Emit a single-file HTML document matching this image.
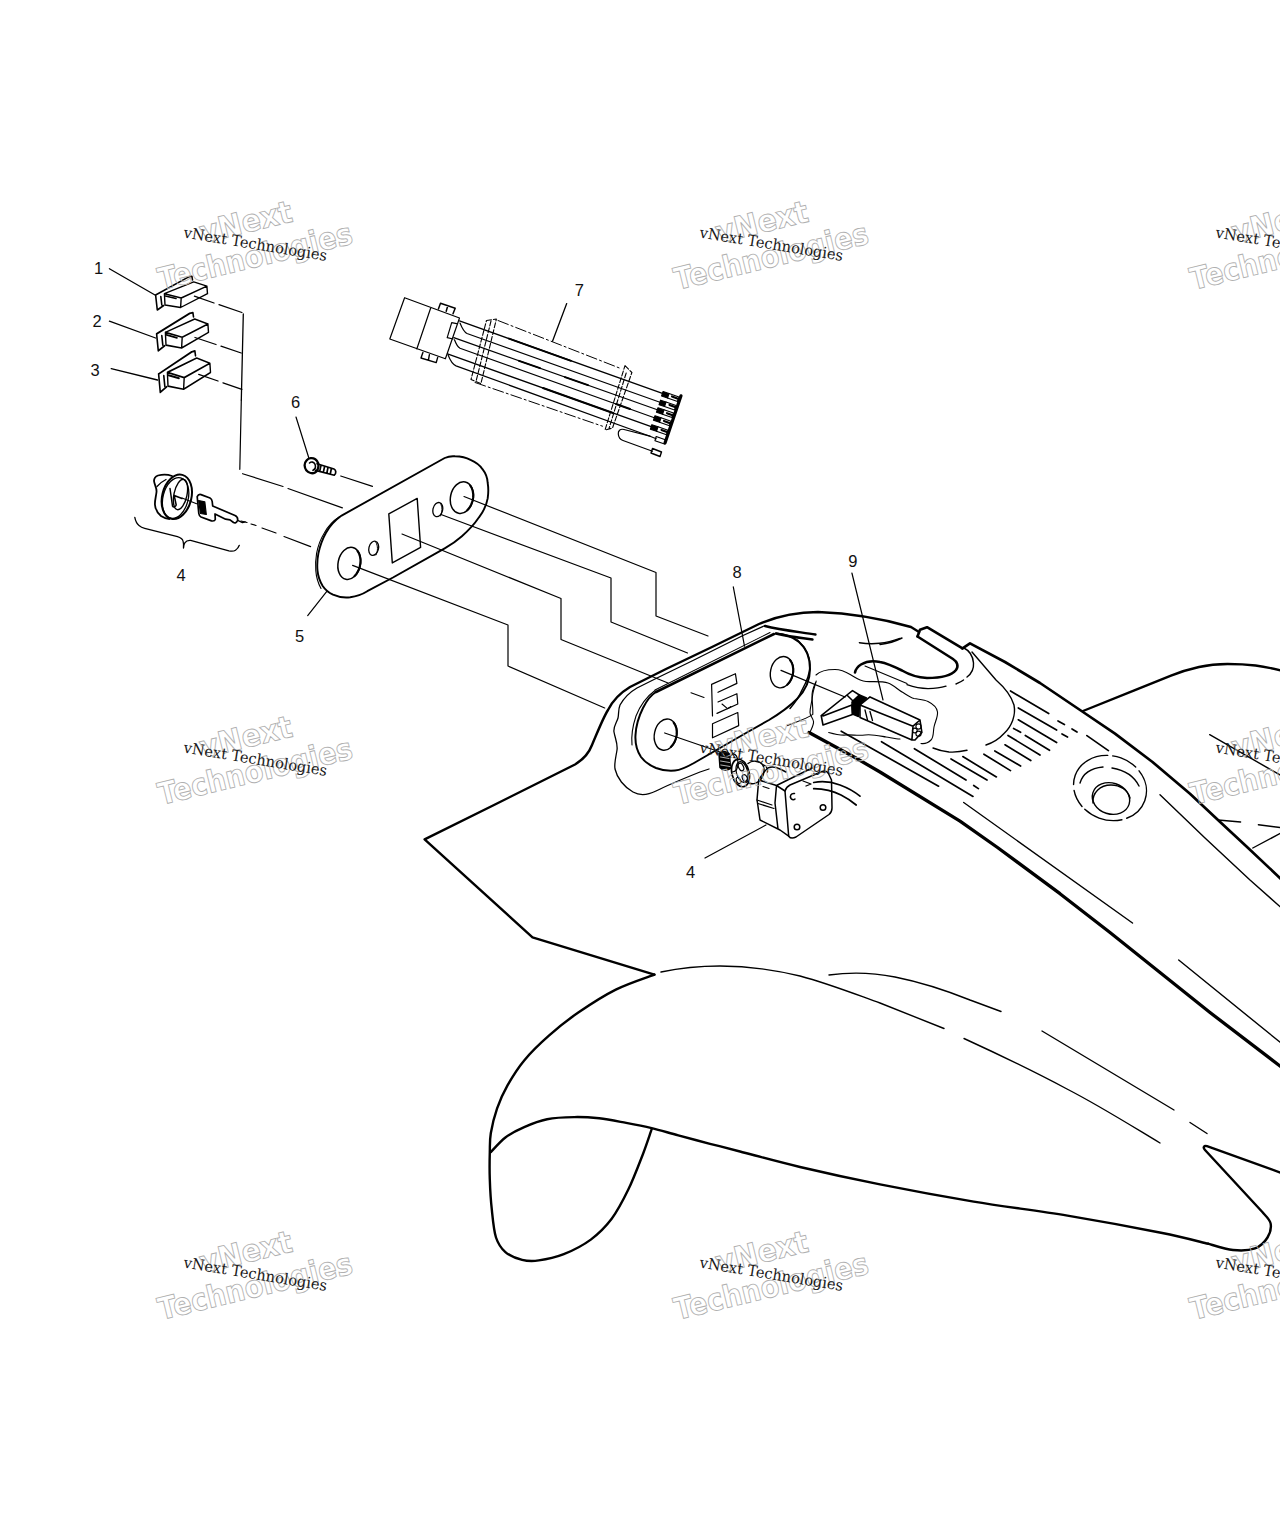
<!DOCTYPE html>
<html lang="en"><head><meta charset="utf-8"><title>Parts diagram</title>
<style>
html,body{margin:0;padding:0;background:#fff;}
body{width:1280px;height:1536px;overflow:hidden;}
svg{display:block;}
.k{fill:none;stroke:#000;stroke-linecap:round;stroke-linejoin:round;}
.t1{stroke-width:1.1}.t2{stroke-width:1.4}.t3{stroke-width:2.4}.t4{stroke-width:3}
.num{font-family:"Liberation Sans",Arial,sans-serif;font-size:16.5px;fill:#111;}
.wo{font-family:"DejaVu Sans","Liberation Sans",sans-serif;font-size:30.5px;font-weight:bold;fill:#fff;fill-opacity:.0;stroke:#b0b0b0;stroke-width:.9;text-anchor:middle;}
.ws{font-family:"DejaVu Serif","Liberation Serif",serif;font-size:15.2px;fill:#1a1a1a;}
</style></head><body>
<svg width="1280" height="1536" viewBox="0 0 1280 1536">
<rect width="1280" height="1536" fill="#fff"/>
<!-- 10_body.svg -->
<g id="body" class="k t3">
<!-- left flat panel + top outline -->
<path d="M654.4,974.6 L532.5,937.3 L424.6,839.3 L494,805 L575,764.5 C584,759 589,753 592,745 C598,731 603,718 608,710 C613,700 620,693 630,687 L666,669 L712,647 L759,624 C780,615 800,612 818,612 C845,613 880,618 911,627 L919,632"/>
<!-- front wheel arch outer -->
<path d="M654.4,974.6 C648.0,977.1 628.5,983.3 615.8,989.6 C603.2,995.9 589.4,1004.9 578.3,1012.5 C567.2,1020.1 558.2,1027.4 549.2,1035.4 C540.1,1043.4 531.1,1052.1 524.2,1060.4 C517.2,1068.8 512.0,1077.4 507.5,1085.4 C503.0,1093.4 499.9,1100.3 497.1,1108.3 C494.3,1116.3 492.0,1126.0 490.8,1133.3 C489.6,1140.6 490.0,1144.4 489.8,1152.1 C489.6,1159.7 489.4,1169.4 489.8,1179.2 C490.1,1188.9 490.8,1200.7 491.9,1210.4 C492.9,1220.1 493.8,1230.6 496.0,1237.5 C498.3,1244.4 501.1,1248.4 505.4,1252.1 C509.8,1255.8 516.5,1258.4 522.1,1259.8 C527.6,1261.2 531.8,1261.4 538.8,1260.4 C545.7,1259.5 555.1,1257.6 563.8,1254.2 C572.4,1250.7 582.8,1245.5 590.8,1239.6 C598.8,1233.7 605.4,1227.1 611.7,1218.8 C617.9,1210.4 623.1,1200.3 628.3,1189.6 C633.5,1178.8 639.0,1164.2 642.9,1154.2 C646.8,1144.1 650.2,1133.3 651.7,1129.2"/>
<!-- inner arch edge + bottom edge of fender -->
<path d="M490.8,1152.1 C493.3,1149.7 499.9,1141.7 505.4,1137.5 C511.0,1133.3 517.2,1130.1 524.2,1127.1 C531.1,1124.0 538.8,1120.8 547.1,1119.2 C555.4,1117.5 565.5,1117.2 574.2,1117.1 C582.8,1116.9 590.5,1117.4 599.2,1118.3 C607.8,1119.3 617.5,1121.3 626.2,1122.9 C635.0,1124.5 643.0,1126.0 651.7,1128.1 C660.3,1130.2 668.6,1132.8 678.3,1135.4 C688.1,1138.0 699.7,1141.1 710.0,1143.8 C720.3,1146.4 725.0,1147.6 740.0,1151.5 C755.0,1155.4 776.7,1161.5 800.0,1167.0 C823.3,1172.5 851.0,1178.6 880.0,1184.4 C909.0,1190.2 942.5,1196.4 973.7,1201.6 C1005.0,1206.8 1036.3,1210.4 1067.5,1215.6 C1098.7,1220.8 1137.6,1228.1 1161.0,1232.8 C1184.4,1237.5 1200.2,1241.9 1208.0,1243.7"/>
<path d="M1208.0,1243.7 C1212.2,1244.8 1225.2,1249.2 1233.0,1250.0 C1240.8,1250.8 1249.2,1250.5 1255.0,1248.4 C1260.8,1246.3 1264.9,1241.7 1267.5,1237.5 C1270.1,1233.3 1271.4,1227.6 1270.6,1223.4 C1269.8,1219.2 1264.1,1214.3 1262.8,1212.5 L1205,1150 C1202.5,1147.3 1204,1145.3 1207,1146.2 L1281,1172.8"/>
</g>
<g class="k t2">
<!-- top of arch line -->
<path d="M661,972 C680,968 700,966 720,966 C745,966 775,970 800,976 C830,984 860,996 880,1003 L944,1028.5"/>
<path d="M964,1038.5 C1000,1055 1035,1072 1067,1089 C1100,1106 1130,1125 1160,1143"/>
<path d="M829,975 C850,972 875,973 895,977 C920,982 945,990 970,1000 L1001,1011.5"/>
<path d="M1042,1031 L1174,1110 M1190,1122.5 L1207,1133.5"/>
</g>

<!-- 11_body2.svg -->
<g class="k t3">
<!-- tab / loop -->
<path d="M917.5,636.5 L920,629.7 L927,627.2 L962.5,648.4" stroke-width="2.6"/>
<path d="M917.5,636.5 L953,659 C957,661.5 959,666 956,670 C952,675 942,678 927,678 C918,677.5 908,674 902,670.5 C895,667 888,663.5 880,662 C873,660.5 866,661.5 861,664.5 C857,667 855.5,670 855,672.5" stroke-width="2.6"/>
<!-- raised section far edge -->
<path d="M962.5,648.4 L970,643.4 L1005,662 L1040,683 L1083,712 L1115,733.7 L1152.5,762 L1190,793.7 L1218,820 L1246,846 L1281,879" stroke-width="2.7"/>
<!-- big right fender -->
<path d="M1083,711 L1133.7,690.6 L1171,675.6 C1181,671.5 1190,669 1199,667 C1208,665 1218,664 1227.5,664 C1237,664 1247,664.5 1255.6,665.5 C1264,666.5 1273,668.5 1281,670.5"/>
<!-- near thick edge of top section -->
<path d="M809,732.5 L855,757.5 L880,772 L960,821.2 L997.5,847.5 L1060,893.7 L1110,932.5 L1160,972.5 L1210,1012.5 L1281,1066.8" stroke-width="3.3"/>
</g>
<g class="k t2">
<!-- dome front line -->
<path d="M972,652 L996,680 C1004,687 1011,695 1014,705 C1016,715 1012,726 1004,733.5 C999,739 992,743 986,745"/>
<path d="M967,750.3 C960,752 954,752.3 949,752 C943,751.5 938,750 933,748"/>
<!-- fender surface lines -->
<path d="M1209.7,734.7 L1281,775.5"/>
<path d="M1218,820 L1240.6,822 M1258.4,824.7 L1281,827.7 M1252.8,848 L1281,833"/>
<path d="M1160,794.7 L1205,838 L1250,880 L1281,907.5"/>
<path d="M963.7,802.5 L1132.5,923"/>
<path d="M1178.7,960 L1281,1043"/>
<!-- second line parallel above thick edge -->
<!-- cap hole -->
<ellipse cx="1111" cy="798.5" rx="19" ry="15.5" transform="rotate(18 1111 798.5)"/>
<path d="M1093,803 C1092,793 1100,785 1111,785 C1120,785 1128,790 1130,798" />
<ellipse cx="1110" cy="788" rx="37" ry="32" transform="rotate(20 1110 788)" stroke-dasharray="26 5 40 4 18 6 50 5"/>
<path d="M1080,783 C1083,773 1092,768 1103,767 M1112,768 C1124,770 1134,776 1139,786"/>
</g>

<!-- 12_hatch.svg -->
<g class="k" stroke-width="1.7">
<path d="M1010.5,691 L1048.7,713.6 M1018.3,708 L1056.6,730 M1058,721 L1064.4,724.5 M1072,729 L1077,732 M1062,734 L1067.5,737 M1086.9,735.6 L1108.4,750.6
M1018.3,719.8 L1056.6,742.5 M1013.6,728.4 L1020.6,732.3 M1025.3,735.5 L1049.5,750.3 M1008,735.5 L1040,755
M1005,744.8 L1030.8,760.5 M994.8,751 L1020.6,766 M983.9,754.2 L1010.5,770.6 M962.8,756.6 L996.4,776.9
M951,759 L987,780 M914.4,748.7 L966,780 M973.7,785.5 L978.4,788.6 M881.5,741.7 L973,796.4 M841.2,731.2 L938.6,786.2"/>
</g>
<g class="k t2">
<!-- arcs near tab -->
<path d="M964,648 C970,651 973,657 973.5,663 C974,669 971,674 967,677 M963.5,680 C961,682 958,683 956,684"/>
<path d="M907,684.7 C915,687.5 922,688.6 928,688.6 C935,688.6 941,687.8 946,686.2"/>
<path d="M880,644.5 C888,643.5 896,641 902,638"/>
</g>

<!-- 20_plate8.svg -->
<g class="k t2">
<!-- inner wavy line of recess -->
<path d="M765,625.5 L743,635.5 L694,660 L656,678.5 L637,688 C630,692 624,698 620,705 C618,710 619,714 618,718 C617,722 613,727 614,732 C615,738 618,744 617,750 C616,757 614,763 615,769 C617,778 624,787 633,792 C640,796 648,795 656,791 C670,784 685,778 700,772 L709,769" stroke-width="1.3"/>
<!-- plate 8 outline -->
<path d="M656,692 L774,634" stroke-width="2.6"/>
<path d="M655,690 L770,632.5" stroke-width="1.1"/>
<path d="M765,626 C780,630 800,632 815.5,634.5 M776,633.5 C790,637 803,638 812.5,639.5" stroke-width="2.4"/>
<path d="M776,633.5 C786,634 793,637 799,642 C806,648 810,658 810,669 C810,680 805,691 797,699 C789,707 779,714 769,720 L746,733 L694,763 C687,767 681,770 675,770.5 C668,771 661,770 656,768 C649,765 644,761 641,757 C637,751 635,743 635.5,735 C636,725 639,716 643,708 C647,700 651,695 656,692" stroke-width="2"/>
<path d="M632,745 C631,735 633,725 636,716 C640,706 646,697 655,690.5" stroke-width="1.1"/>
<!-- holes -->
<ellipse cx="665.6" cy="734.6" rx="11.2" ry="15.8" transform="rotate(12 665.6 734.6)"/>
<ellipse cx="781.9" cy="672.2" rx="11.4" ry="15.8" transform="rotate(12 781.9 672.2)"/>
<path d="M673.7,722.6 L675.2,725.1 L676.3,728.1 L676.7,731.4 L676.6,734.9 L675.9,738.3 L674.7,741.6 L673.0,744.5 L670.9,746.9 M790.1,660.2 L791.7,662.7 L792.7,665.7 L793.2,669.0 L793.1,672.5 L792.4,676.0 L791.1,679.3 L789.4,682.2 L787.3,684.6" stroke-width="2.1"/>
<!-- rectangles -->
<path d="M712.5,716 L711.6,684.4 L735.4,673.7 L736.9,683.4 L718,692.3 M718,702 L736.9,693.7 L737.8,704 L717,713.4 M712.5,723.7 L737.8,712.5 L738.7,725.6 L712.5,737.8 Z" stroke-width="1.2"/>
<path d="M691,692.8 L704,697.5 M722,704 L727.5,708.7 L731,706.5" stroke-width="1.1"/>
<path d="M733.3,586.9 L744.5,646.2" stroke-width="1.2"/>
<!-- axis lines -->
<path d="M664.7,733 L720,752 M781,670.3 L845,697" stroke-width="1.3"/>
<!-- wire -->
<path d="M815.6,682.5 C813,688 811.5,692 812,698 C812.5,704 813,709 812.8,714.4 C806,719 796,722 787.5,725.6" stroke-width="1.1"/>
</g>
<!-- step lines from plate 5 to plate 8 -->
<g class="k" stroke-width="1.2">
<path d="M352.6,565.4 L508,625 L508,666 L604.7,708"/>
<path d="M402,534 L561,598.5 L561,639.5 L668,683"/>
<path d="M441,514.5 L611,578 L611,622 L687.5,653"/>
<path d="M464,496.5 L656,572.5 L656,616 L708,636"/>
</g>

<!-- 30_switch9.svg -->
<g class="k" stroke-width="1.6">
<!-- lever -->
<path d="M821.2,715.6 L823,725 L852.5,714.4 L851.9,705 L823,716 M821.2,715.6 L846.9,695 L852.5,690.6 L859.4,695 L853,701 L846.9,695"/>
<path d="M852,702 L859.5,695 L866.5,698 L859.5,705 L858.5,716.5 L852.5,714 Z" fill="#000"/>
<!-- body -->
<path d="M860,705 L870,696.9 L920,720 L913,726.2 Z M860,705 L860,717.5 L911.9,740 L913,726.2 M920,720 L921.9,732.5 L915,740 L911.9,740"/>
<path d="M865,710 L867.5,720 M870,711.5 L872.5,720.5" stroke-width="1.3"/>
<circle cx="918.5" cy="726.5" r="2.6" stroke-width="1.1"/><circle cx="918.5" cy="733.7" r="2.6" stroke-width="1.1"/><circle cx="914.8" cy="730.5" r="2.4" stroke-width="1.1"/>
</g>
<g class="k" stroke-width="1.1">
<!-- leader 9 & axis -->
<path d="M851.9,573 L883,700" stroke-width="1.2"/>
<!-- cloud -->
<path d="M816,675 C820,671 828,669.5 835,669.5 C842,669.5 846,672 851,675 C856,678 860,681 866,681.5 C874,682 882,681 888,683 C894,685 898,690 903,692.5 C907,695 910,697.5 914,698.5 C919,699.5 924,699.5 928,701.5 C933,704 937,708 937.5,712 C938,717 935,722 934,727 C933,732 934,737 931,740 C928,743 924,744 921,743.5"/>
<path d="M816.2,681 C815,686 813,691 812.5,696 C812,702 810,707 810,712.5 C810,716 813,718 813.5,721.5 C814,725 811,729 810,732.5"/>
<path d="M828.7,732.5 C834,734 840,735.5 846,735 C852,734.5 858,736 865,735 C872,734 880,736 886,737 C892,738 896,739 900,739"/>
<!-- recess arc left of switch -->
<path d="M797.5,640 C806,648 810,656 810,665 C810,675 806,683 802,690 C799,697 794,704 790,708.5" stroke-width="1.5"/>
<path d="M859.4,642.7 C866,643.7 873,644 879.7,643.2 C887,642.5 894,640.5 900,638.4" stroke-width="1.5"/>
<path d="M865,666 L907,683.5" />
</g>

<!-- 31_switch4.svg -->
<g class="k" stroke-width="1.5">
<!-- threaded barrel -->
<path d="M719,753.5 C722,750.5 727,751 729.5,754 L730.5,768.5 C727.5,771 722.5,770.5 720,767.5 Z" fill="#000"/>
<path d="M720.5,757 L729,758.5 M720.5,761 L729.5,762.5 M720.8,765 L730,766.5" stroke="#fff" stroke-width=".7"/>
<path d="M732,754 C736,753.5 738,757 738,763 C738,768 736,772 732,772" stroke-width="1.2"/>
<!-- washer / nut -->
<ellipse cx="740.5" cy="773" rx="8.6" ry="14" transform="rotate(-14 740.5 773)" stroke-width="1.7"/>
<ellipse cx="742" cy="772" rx="5.6" ry="10.5" transform="rotate(-14 742 772)" stroke-width="1.2"/>
<ellipse cx="741" cy="767" rx="2.4" ry="4" transform="rotate(-25 741 767)" stroke-width="1.2"/>
<ellipse cx="745" cy="778.5" rx="2.4" ry="4" transform="rotate(-25 745 778.5)" stroke-width="1.2"/>
<ellipse cx="738.5" cy="780.5" rx="2" ry="3.2" transform="rotate(-25 738.5 780.5)" stroke-width="1.1"/>
<!-- neck -->
<path d="M748,763.5 C752,760 759,760.5 762.5,764.5 C765,768 764.5,774 761.5,778.5 C758.5,783 753,785 749,783" stroke-width="1.4"/>
<path d="M762.5,764.5 C766,765.5 768,768 767.5,772" stroke-width="1.3"/>
<!-- body -->
<path d="M785,791 C786,788 788,786 790,785 L822,771.5 C825,770.5 827,771 828.5,773.5 L831.5,780 L832,808 C832,811 831,813 829,814.5 L796,837 C793,838.5 790,838 788.7,836.2 Z"/>
<path d="M758.7,780 C762,775 765,770 768,768 C772,766 776,767 780,769 L786,772 M776.5,785.5 L812,768 M758.7,780 L776.5,785.5 L785,791 M758.7,780 L757,800 L757.5,803 L760,820 L780,830 L788.7,836.2 M776.5,785.5 L775,803 L778,829"/>
<path d="M757,800 L772,805 M758,803.5 L774,808.5 M763,786.5 L769,788.5" stroke-width="1.2"/>
<circle cx="823" cy="807.5" r="2.8"/><circle cx="797" cy="827" r="2.8"/>
<path d="M794.5,793.5 C791,793 789.5,796 791,798.5 C792,800 794,800 795,799"/>
<!-- cable -->
<path d="M813.7,782.5 C822,781 832,782 840,785 C848,788 855,792 860,796.2 M813.7,788.7 C823,789 833,791 841,795 C847,798 852,801.5 856.2,805" stroke-width="1.7"/>
<path d="M803,781 L811,784 L806,786" stroke-width="1.3"/>
<!-- leader -->
<path d="M766,825 L705,858" stroke-width="1.2"/>
</g>

<!-- 40_plate5.svg -->
<g class="k" stroke-width="1.9">
<path d="M341.6,515.6 L444.7,458 C448,456.5 452,456 455,456.3 C461,456.5 466,457.5 470.5,459.8 C475.5,462 480,465 482.5,469.2 C485.5,473 487.5,478 487.7,483 C488.5,488 488.5,493 487.7,498.4 C486.5,505 483.5,511.5 479,517.3 C474.5,524 468.5,530.5 461.9,536.2 C456.5,541 450.5,545 444.7,548.3 L393,577.5 L367.3,591.2 C362,594.5 356,596.5 350.2,597.3 C344,598 338,597 333,594.7 C328.5,592.5 325,589.5 322.7,586 C320,581.5 318,576 317.5,570.6 C317,565 317.3,559 318.4,553.4 C320,546 322.5,539 326,532.8 C330,525.5 335.5,520 341.6,515.6 Z"/>
<path d="M321,588.5 C318,583 316.3,577 315.8,570.6 C315.4,565 315.6,559 316.6,553.4 C318,546 320.5,539 324.3,533 C328,526 333.5,520.5 339.8,516.5" stroke-width="1.1"/>
</g>
<g class="k" stroke-width="1.5">
<ellipse cx="349.3" cy="563.4" rx="11.2" ry="16.3" transform="rotate(12 349.3 563.4)"/>
<ellipse cx="461.9" cy="497.6" rx="11.4" ry="16" transform="rotate(12 461.9 497.6)"/>
<ellipse cx="373.7" cy="548.3" rx="4.8" ry="7.2" transform="rotate(14 373.7 548.3)" stroke-width="1.3"/>
<ellipse cx="437.8" cy="509.6" rx="4.8" ry="7.2" transform="rotate(14 437.8 509.6)" stroke-width="1.3"/>
<path d="M357.5,551.0 L359.0,553.5 L360.0,556.6 L360.5,560.0 L360.3,563.6 L359.6,567.2 L358.3,570.6 L356.6,573.6 L354.5,576.1 M470.2,485.5 L471.7,488.0 L472.7,491.0 L473.2,494.4 L473.1,497.9 L472.4,501.4 L471.1,504.7 L469.4,507.7 L467.3,510.1" stroke-width="2.1"/>
<path d="M376,542.5 C378,546 378,551 376,555 M440.5,503.5 C442.5,507 442.5,512 440.5,516" stroke-width="1"/>
<path d="M388.8,513.9 L417.2,498.4 L420.6,547.4 L392.3,562.9 Z" stroke-width="1.4"/>
</g>
<g class="k" stroke-width="1.2">
<!-- screw 6 -->
<path d="M296,417 L309,458.5"/>
<path d="M306.5,460.5 C308.5,457.8 312.5,457.3 315.3,459.3 C318,461.3 319,465 318,468.7 C317,472 313.8,474 310.5,473 C307,472 304.8,468.8 304.6,465.3 C304.5,463.3 305.3,461.8 306.5,460.5 Z" stroke-width="2.3"/>
<path d="M309.5,463 C311.5,461.3 314,462 315,464.3 C316,466.8 315,469.3 313,470.3" stroke-width="1.6"/>
<path d="M317,463.8 L334,469 C336.3,470 336.3,473.6 334.3,475.2 L315.5,470.4 M321,465.2 L319.8,471 M324.6,466.4 L323.4,472.2 M328,467.5 L326.8,473.2 M331.4,468.5 L330.2,474.2" stroke-width="1.7"/>
<path d="M340.7,476 L372.5,486.4"/>
<!-- leader 5 -->
<path d="M327,591.2 L307.7,615.6"/>
<!-- connector trunk line -->
<path d="M241.3,400 L239.8,469.3"/>
<path d="M242.6,473.7 L283,486.5 M288,488.5 L342.4,507.9"/>
<!-- key dash line -->
<path d="M241,521 L247,522.5 M251,524 L256,525.5 M262,528 L276,533 M284,536.5 L310.6,546.6"/>
</g>

<!-- 41_conn.svg -->
<g class="k">
<g transform="translate(0,0)">
<path d="M155.6,295 L188.7,276.9 L191.9,276.2 L192.5,280 M155.6,295 L157.3,310 L163.7,305.5 M160.8,296.5 L161.8,305" stroke-width="1.6"/>
<path d="M164.4,293.7 L193.7,281.9 L206.9,286.2 L181.2,298 Z M181.2,298 L180.6,307.5 L165,305 L164.4,293.7 M206.9,286.2 L207.5,293.7 L180.6,307.5" stroke-width="1.4"/>
<path d="M165.5,296 L176,298.5" stroke-width="1.6"/>
</g>
<g transform="translate(1,36.5) translate(0,276.9) scale(1,1.13) translate(0,-276.9)">
<path d="M155.6,295 L188.7,276.9 L191.9,276.2 L192.5,280 M155.6,295 L157.3,310 L163.7,305.5 M160.8,296.5 L161.8,305" stroke-width="1.6"/>
<path d="M164.4,293.7 L193.7,281.9 L206.9,286.2 L181.2,298 Z M181.2,298 L180.6,307.5 L165,305 L164.4,293.7 M206.9,286.2 L207.5,293.7 L180.6,307.5" stroke-width="1.4"/>
<path d="M165.5,296 L176,298.5" stroke-width="1.6"/>
</g>
<g transform="translate(3,75) translate(0,276.9) scale(1,1.22) translate(0,-276.9)">
<path d="M155.6,295 L188.7,276.9 L191.9,276.2 L192.5,280 M155.6,295 L157.3,310 L163.7,305.5 M160.8,296.5 L161.8,305" stroke-width="1.6"/>
<path d="M164.4,293.7 L193.7,281.9 L206.9,286.2 L181.2,298 Z M181.2,298 L180.6,307.5 L165,305 L164.4,293.7 M206.9,286.2 L207.5,293.7 L180.6,307.5" stroke-width="1.4"/>
<path d="M165.5,296 L176,298.5" stroke-width="1.6"/>
</g>
<path d="M109.4,268.7 L155,295 M109.4,321.2 L155.6,338 M111.2,368.7 L157.5,380" stroke-width="1.3"/>
<path d="M194.4,296.2 L214,303 M219,304.7 L241.9,312.5 M195,337.5 L216,344.5 M221,346.2 L241.2,353 M198.7,374.4 L218,381 M223,382.8 L241.9,389.4" stroke-width="1.3"/>
<path d="M243.3,314 L241.3,400" stroke-width="1.3"/>
</g>

<!-- 42_harness.svg -->
<g class="k" stroke-width="1.2">
<!-- connector block -->
<path d="M404.6,297.7 L459.5,318 L445.4,358.8 L389.8,339 Z M430.6,308.2 L416.8,349"/>
<path d="M438.4,308.9 L440.5,303.3 L455.2,308.2 L453,313.8 M447.8,305.8 L446.2,311.2" stroke-width="1.5"/>
<path d="M422.9,352.5 L421,358 L436.2,362.6 L437.7,357.4 M429.4,354.6 L428.4,360.2" stroke-width="1.4"/>
<path d="M456.6,323.7 L451.7,322.7 L447.2,337.7 L453,339"/>
<!-- wires -->
<path d="M459.5,320.9 L663.1,393.7" stroke-width="1.3"/>
<path d="M460,323 C462,328 464,332 467,333.5 L660.6,402.5"/>
<path d="M453.8,337.7 L658,410" stroke-width="1.3"/>
<path d="M454.5,339.8 C456,344 458,347 460,348.3 L655,418"/>
<path d="M447.5,353.9 L651.9,426.9" stroke-width="1.3"/>
<path d="M448.2,355.3 C450,360 453,364.5 456,365.9 L650,436.2 L656.2,438.7"/>
<!-- thicker mid-segments -->
<path d="M509,338.6 L571,360.8 M519,360.8 L540,368.2 M565,377.1 L588,385.2 M543,388 L613,413 M616,404 L630,409" stroke-width="1.9"/>
<!-- loop wire -->
<path d="M650,436.2 L624,429.5 C620,428.5 618,431 618.3,434 C618.5,437.5 620,439.5 623,440.5 L652.5,451.2" />
<path d="M652.5,448.5 L661.5,452 L660,456.5 L651,453 Z" stroke-width="1.4"/>
<!-- sleeve bands -->
<g stroke-dasharray="5 2" stroke-width="1.1">
<path d="M486.5,320.5 L496.4,319 L480.9,383.7 L471,379.5 Z M491,321 L476,381.5"/>
<path d="M625,365.6 L631.9,372.5 L612.5,428 L605,430 Z M626.2,373 L609,428.5"/>
</g>
<path d="M498,320.5 L621.2,368.7 M475,382.5 L602.5,426.2" stroke-dasharray="11 3 2 3" stroke-width="1"/>
<!-- terminals -->
<path d="M681,395.8 L665,443" stroke-width="3.2"/>
<g stroke-width="1.2">
<path d="M663.1,391.5 L669,393.5 L667.5,398 L661.6,396 Z M660.6,400.2 L666,402 L664.5,406.5 L659.1,404.7 Z M658,407.8 L664,409.8 L662.5,414.3 L656.5,412.3 Z M655,415.8 L661,417.8 L659.5,422.3 L653.5,420.3 Z M651.9,424.7 L658,426.7 L656.5,431.2 L650.4,429.2 Z" fill="#000"/>
<path d="M669,393.5 L679,397 L677.5,401.5 L667.5,398 M666,402 L676,405.5 L674.5,410 L664.5,406.5 M664,409.8 L673.5,413 L672,417.5 L662.5,414.3 M661,417.8 L671,421.3 L669.5,425.8 L659.5,422.3 M658,426.7 L668,430.2 L666.5,434.7 L656.5,431.2 M656.2,436.5 L666,440 L664.5,444 L655,440.7 Z"/>
<path d="M672,396.5 L678,398.7 M669.5,405 L675,407 M667,413.2 L672.5,415.2 M664,421 L670,423.2 M661.5,430 L667,432" stroke-width="2.2"/>
</g>
<!-- leader 7 -->
<path d="M566.7,303.6 L552.5,341.2" stroke-width="1.3"/>
</g>

<!-- 43_key.svg -->
<g class="k" stroke-width="1.6">
<!-- lock cap -->
<ellipse cx="176.8" cy="496.8" rx="14.6" ry="22.6" transform="rotate(14 176.8 496.8)" stroke-width="2"/>
<ellipse cx="175.6" cy="498" rx="12.6" ry="20.8" transform="rotate(14 175.6 498)" stroke-width="1.3"/>
<path d="M172,476 C168,474.5 162,474.5 158,475.5 C155.5,476.5 154,478.5 154,481 C154.5,485 157,488 156.5,492 C156,497 154.5,501 155,505 C155.5,510 158,513.5 161,516 C164,518 167,518.8 169.5,519" stroke-width="1.8"/>
<path d="M157,486.5 C160,483 163,481 166,479.5" stroke-width="1.3"/>
<ellipse cx="180.5" cy="494.5" rx="6.5" ry="15.5" transform="rotate(12 180.5 494.5)" stroke-width="1.4"/>
<path d="M170,488.5 L172.5,506 C173.5,507.5 175.5,507 176.2,505 L174.2,495.5 M174.2,495.5 L182,498.5" stroke-width="1.5"/>
<!-- link -->
<path d="M182,498 L196.6,503.7" stroke-width="1.2"/>
<!-- key -->
<path d="M197.2,496.6 C198,494.8 199.5,494.2 201,494.6 L210,498 C211.5,498.8 212,500 212.2,501.5 L212.7,506 L235,515.5 C237,516.5 238,518.5 237.5,520.5 C236.5,522.8 235,523.3 233.5,522.5 L230,519.8 L225.6,519.2 L215,514 L215.3,519.4 C215,520.6 213.5,521.2 211.5,520.9 L201,517 C199.5,516.2 199,515 198.8,513.5 Z" stroke-width="1.7"/>
<path d="M198.6,500.5 L204.8,501.8 L206.3,514.5 L200.5,513.5 Z" fill="#000" stroke-width="1.2"/>
<path d="M237.7,520.4 L242.5,522.6 L245,521.8" stroke-width="1.4"/>
<!-- brace -->
<path d="M134.8,517.4 C135.5,521 136.5,523.5 139,525.5 C141,527.3 143,528 144.7,528.4 L177.5,536.6 C180.5,537.5 182.5,538.8 183,540.9 C183.6,543 183.7,545.5 183.5,548 C183.6,545.5 184,544 184.8,542.8 C186,541 188,540.2 190.6,540.4 L228.9,550.8 C231.5,551.4 233.8,551.3 235.5,550.2 C237.3,549 238.6,547.3 239.3,545.3" stroke-width="1.3"/>
</g>

<g id="labels">
<text class="num" x="98.5" y="273.7" text-anchor="middle">1</text>
<text class="num" x="97" y="327" text-anchor="middle">2</text>
<text class="num" x="95" y="375.6" text-anchor="middle">3</text>
<text class="num" x="295.5" y="407.8" text-anchor="middle">6</text>
<text class="num" x="579.4" y="296" text-anchor="middle">7</text>
<text class="num" x="181" y="580.8" text-anchor="middle">4</text>
<text class="num" x="299.5" y="642.3" text-anchor="middle">5</text>
<text class="num" x="737" y="578.3" text-anchor="middle">8</text>
<text class="num" x="852.8" y="567.3" text-anchor="middle">9</text>
<text class="num" x="690.6" y="877.5" text-anchor="middle">4</text>
</g>
<g id="wm">
<g transform="translate(251,243.5) rotate(-13.6)"><text class="wo" x="0" y="-11.5" textLength="94" lengthAdjust="spacingAndGlyphs">vNext</text><text class="wo" x="1" y="24" textLength="199" lengthAdjust="spacingAndGlyphs">Technologies</text></g>
<text class="ws" transform="translate(183,237.5) rotate(9.3)" textLength="145" lengthAdjust="spacingAndGlyphs">vNext Technologies</text>
<g transform="translate(767,243.5) rotate(-13.6)"><text class="wo" x="0" y="-11.5" textLength="94" lengthAdjust="spacingAndGlyphs">vNext</text><text class="wo" x="1" y="24" textLength="199" lengthAdjust="spacingAndGlyphs">Technologies</text></g>
<text class="ws" transform="translate(699,237.5) rotate(9.3)" textLength="145" lengthAdjust="spacingAndGlyphs">vNext Technologies</text>
<g transform="translate(1283,243.5) rotate(-13.6)"><text class="wo" x="0" y="-11.5" textLength="94" lengthAdjust="spacingAndGlyphs">vNext</text><text class="wo" x="1" y="24" textLength="199" lengthAdjust="spacingAndGlyphs">Technologies</text></g>
<text class="ws" transform="translate(1215,237.5) rotate(9.3)" textLength="145" lengthAdjust="spacingAndGlyphs">vNext Technologies</text>
<g transform="translate(251,758.5) rotate(-13.6)"><text class="wo" x="0" y="-11.5" textLength="94" lengthAdjust="spacingAndGlyphs">vNext</text><text class="wo" x="1" y="24" textLength="199" lengthAdjust="spacingAndGlyphs">Technologies</text></g>
<text class="ws" transform="translate(183,752.5) rotate(9.3)" textLength="145" lengthAdjust="spacingAndGlyphs">vNext Technologies</text>
<g transform="translate(767,758.5) rotate(-13.6)"><text class="wo" x="0" y="-11.5" textLength="94" lengthAdjust="spacingAndGlyphs">vNext</text><text class="wo" x="1" y="24" textLength="199" lengthAdjust="spacingAndGlyphs">Technologies</text></g>
<text class="ws" transform="translate(699,752.5) rotate(9.3)" textLength="145" lengthAdjust="spacingAndGlyphs">vNext Technologies</text>
<g transform="translate(1283,758.5) rotate(-13.6)"><text class="wo" x="0" y="-11.5" textLength="94" lengthAdjust="spacingAndGlyphs">vNext</text><text class="wo" x="1" y="24" textLength="199" lengthAdjust="spacingAndGlyphs">Technologies</text></g>
<text class="ws" transform="translate(1215,752.5) rotate(9.3)" textLength="145" lengthAdjust="spacingAndGlyphs">vNext Technologies</text>
<g transform="translate(251,1273.5) rotate(-13.6)"><text class="wo" x="0" y="-11.5" textLength="94" lengthAdjust="spacingAndGlyphs">vNext</text><text class="wo" x="1" y="24" textLength="199" lengthAdjust="spacingAndGlyphs">Technologies</text></g>
<text class="ws" transform="translate(183,1267.5) rotate(9.3)" textLength="145" lengthAdjust="spacingAndGlyphs">vNext Technologies</text>
<g transform="translate(767,1273.5) rotate(-13.6)"><text class="wo" x="0" y="-11.5" textLength="94" lengthAdjust="spacingAndGlyphs">vNext</text><text class="wo" x="1" y="24" textLength="199" lengthAdjust="spacingAndGlyphs">Technologies</text></g>
<text class="ws" transform="translate(699,1267.5) rotate(9.3)" textLength="145" lengthAdjust="spacingAndGlyphs">vNext Technologies</text>
<g transform="translate(1283,1273.5) rotate(-13.6)"><text class="wo" x="0" y="-11.5" textLength="94" lengthAdjust="spacingAndGlyphs">vNext</text><text class="wo" x="1" y="24" textLength="199" lengthAdjust="spacingAndGlyphs">Technologies</text></g>
<text class="ws" transform="translate(1215,1267.5) rotate(9.3)" textLength="145" lengthAdjust="spacingAndGlyphs">vNext Technologies</text>
</g>
</svg>
</body></html>
